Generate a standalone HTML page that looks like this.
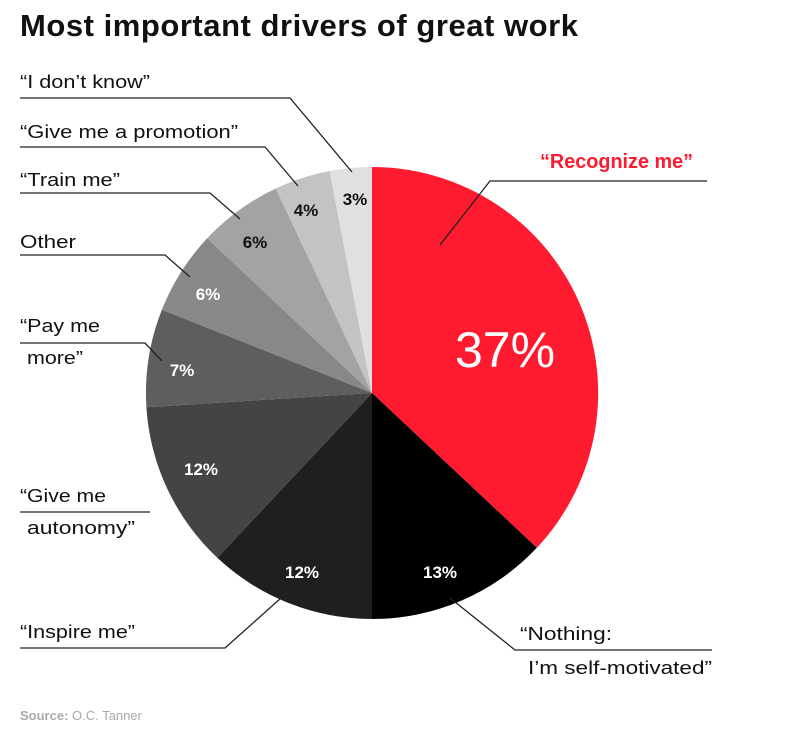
<!DOCTYPE html>
<html><head><style>
body{margin:0;background:#fff;width:797px;height:744px;overflow:hidden;font-family:"Liberation Sans",sans-serif}
</style></head><body>
<svg width="797" height="744" xmlns="http://www.w3.org/2000/svg" font-family="Liberation Sans, sans-serif">
<text x="20" y="36" font-size="31" font-weight="bold" fill="#111" textLength="558">Most important drivers of great work</text>
<g>
<path d="M372,393 L372,167 A226,226 0 0 1 536.8,547.8 Z" fill="#fe1a2f"/>
<path d="M372,393 L536.8,547.8 A226,226 0 0 1 372,619 Z" fill="#000"/>
<path d="M372,393 L372,619 A226,226 0 0 1 217.3,557.8 Z" fill="#1f1f1f"/>
<path d="M372,393 L217.3,557.8 A226,226 0 0 1 146.4,407.2 Z" fill="#444"/>
<path d="M372,393 L146.4,407.2 A226,226 0 0 1 161.9,309.8 Z" fill="#5e5e5e"/>
<path d="M372,393 L161.9,309.8 A226,226 0 0 1 207.2,238.3 Z" fill="#888"/>
<path d="M372,393 L207.2,238.3 A226,226 0 0 1 275.8,188.5 Z" fill="#a3a3a3"/>
<path d="M372,393 L275.8,188.5 A226,226 0 0 1 329.6,171 Z" fill="#c3c3c3"/>
<path d="M372,393 L329.6,171 A226,226 0 0 1 372,167 Z" fill="#e0e0e0"/>
</g>
<g stroke="#222" stroke-width="1.3" fill="none">
<polyline points="20,98 290,98 352,172"/>
<polyline points="20,147 265,147 298,186"/>
<polyline points="20,193 210,193 240,219"/>
<polyline points="20,255 165,255 190,277"/>
<polyline points="20,343 145,343 162,361"/>
<polyline points="20,512 150,512"/>
<polyline points="20,648 225,648 290,590"/>
<polyline points="450,598 515,650 712,650"/>
<polyline points="707,181 490,181 440,245"/>
</g>
<g font-size="18" fill="#111" lengthAdjust="spacingAndGlyphs">
<text x="20" y="88" textLength="130" lengthAdjust="spacingAndGlyphs">“I don’t know”</text>
<text x="20" y="138" textLength="218" lengthAdjust="spacingAndGlyphs">“Give me a promotion”</text>
<text x="20" y="186" textLength="100" lengthAdjust="spacingAndGlyphs">“Train me”</text>
<text x="20" y="248" textLength="56" lengthAdjust="spacingAndGlyphs">Other</text>
<text x="20" y="332" textLength="80" lengthAdjust="spacingAndGlyphs">“Pay me</text>
<text x="27" y="364" textLength="56" lengthAdjust="spacingAndGlyphs">more”</text>
<text x="20" y="502" textLength="86" lengthAdjust="spacingAndGlyphs">“Give me</text>
<text x="27" y="534" textLength="108" lengthAdjust="spacingAndGlyphs">autonomy”</text>
<text x="20" y="638" textLength="115" lengthAdjust="spacingAndGlyphs">“Inspire me”</text>
<text x="520" y="640" textLength="92" lengthAdjust="spacingAndGlyphs">“Nothing:</text>
<text x="528" y="674" textLength="184" lengthAdjust="spacingAndGlyphs">I’m self-motivated”</text>
</g>
<text x="540" y="168" font-size="20" fill="#fe1a2f" font-weight="bold" textLength="153" lengthAdjust="spacingAndGlyphs">“Recognize me”</text>
<g font-size="17" font-weight="bold" text-anchor="middle">
<text x="505" y="367" font-size="50" font-weight="normal" fill="#fff">37%</text>
<text x="440" y="578" fill="#fff">13%</text>
<text x="302" y="578" fill="#fff">12%</text>
<text x="201" y="475" fill="#fff">12%</text>
<text x="182" y="376" fill="#fff">7%</text>
<text x="208" y="300" fill="#fff">6%</text>
<text x="255" y="248" fill="#111">6%</text>
<text x="306" y="216" fill="#111">4%</text>
<text x="355" y="205" fill="#111">3%</text>
</g>
<text x="20" y="720" font-size="13" fill="#aaa"><tspan font-weight="bold">Source:</tspan> O.C. Tanner</text>
</svg>
</body></html>
